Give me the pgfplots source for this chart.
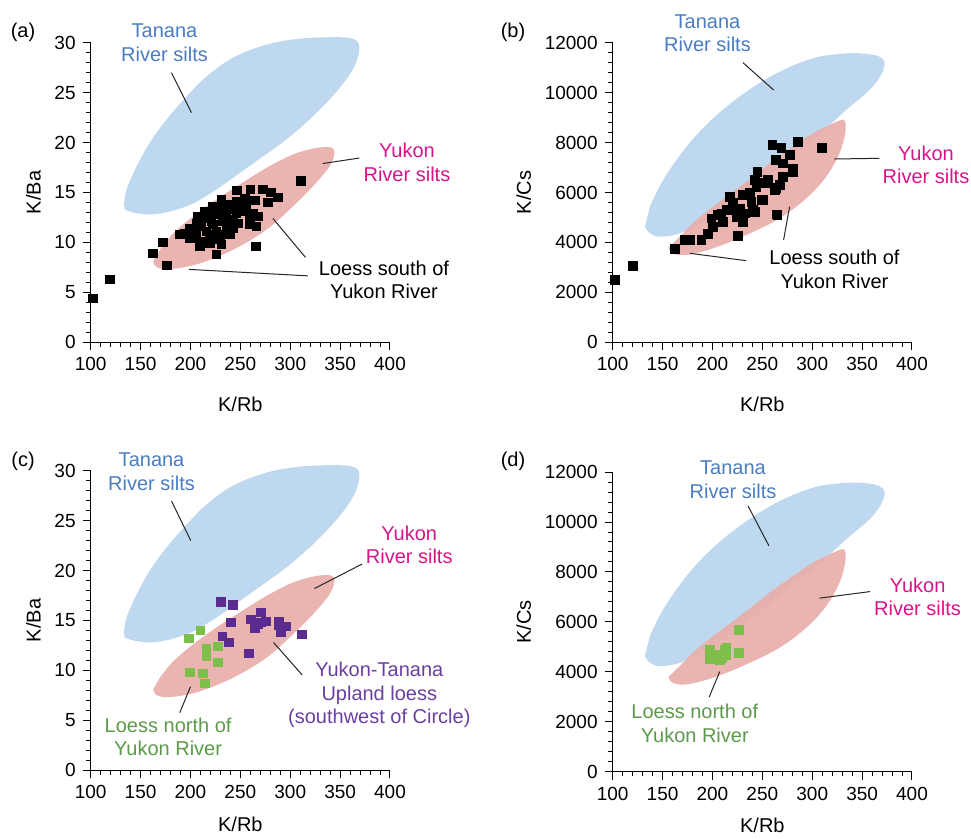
\documentclass[border=0pt]{standalone}
\usepackage{fontspec}
\setmainfont{Liberation Sans}
\usepackage{pgfplots}
\pgfplotsset{compat=1.18}
\definecolor{tananafill}{HTML}{BED8EF}
\definecolor{yukonfill}{HTML}{E8AEAA}
\definecolor{tananatext}{HTML}{4A7CC2}
\definecolor{yukontext}{HTML}{D6148B}
\definecolor{northgreen}{HTML}{7DBF4A}
\definecolor{northtext}{HTML}{5B9A48}
\definecolor{uplandpurple}{HTML}{5B2C8F}
\definecolor{uplandtext}{HTML}{6B3FA0}
\newcommand\annot{\fontsize{10}{11.7}\selectfont}

\pgfplotsset{
  panel/.style={
    scale only axis, width=149.65pt, height=149.8pt,
    anchor=south west, clip=false,
    xmin=100, xmax=400, ymin=0,
    axis x line*=bottom, axis y line*=left,
    axis line style={-, line width=0.6pt},
    tick align=outside, tick style={black, line width=0.5pt},
    major tick length=4pt, minor tick length=2.2pt,
    xtick={100,150,...,400}, minor x tick num=4, minor y tick num=4,
    tick label style={font=\fontsize{9.5}{11}\selectfont},
    label style={font=\annot},
    xlabel style={yshift=-6pt},
    /pgf/number format/assume math mode=true,
    /pgf/number format/set thousands separator={},
    scaled ticks=false,
    xlabel={K/Rb},
  },
  lower/.style={xlabel style={yshift=4pt}},
  kba/.style={panel, ymax=30, ytick={0,5,...,30}, ylabel={K/Ba}},
  kcs/.style={panel, ymax=12000, ytick={0,2000,...,12000}, ylabel={K/Cs}},
  blobT/.style={draw=none, fill=tananafill, smooth, tension=0.6, no marks},
  blobY/.style={draw=none, fill=yukonfill, fill opacity=0.92, smooth, tension=0.6, no marks},
  sq/.style={only marks, mark=square*, mark size=2.2pt},
  leader/.style={black!85, line width=0.5pt, no marks},
}

\begin{document}
\begin{tikzpicture}
\path[use as bounding box] (0,0) rectangle (485.5pt,419.5pt);

% ---------- (a) ----------
\begin{axis}[kba, at={(45.35pt,248.35pt)}]
\addplot[blobT] coordinates {
(133.3,13.8) (136,15.3) (146,17.6) (159.3,20) (176,22.3) (196,24.6) (216,26.6)
(242.6,28.5) (276,29.8) (309.3,30.4) (342.6,30.55) (362.6,30.4) (369.3,29.65)
(366,28) (356,26.3) (339.3,24.3) (319.3,22.3) (296,20.3) (272.6,18.6)
(249.3,16.95) (226,15.3) (202.6,13.9) (179.3,13.1) (159.3,12.8) (142.6,13.0) (134.3,13.3)
} -- cycle;
\addplot[blobY] coordinates {
(162.6,8.1) (165,7.6) (172,7.35) (186,7.4) (209.3,7.9) (242.6,9.26) (276,11.26)
(302.6,13.6) (322.6,15.6) (339.3,17.6) (344.3,18.96) (341,19.5) (326,19.45)
(302.6,18.8) (276,17.45) (249.3,15.8) (226,14.3) (202.6,12.6) (182.6,10.9) (169.3,9.26)
} -- cycle;
\addplot[sq, black] coordinates {
(102,4.4) (119.5,6.3) (162,8.9) (172.6,10.0) (176.6,7.7) (189.3,10.8) (310.5,16.2)
(246.6,15.2) (260,15.3) (272.6,15.3) (281,15.0) (287.6,14.5) (277.6,14.0) (264.3,14.2) (254.3,14.4)
(239.3,13.8) (232.6,13.4) (226,13.1) (219.3,12.8) (212.6,12.4) (206,11.9) (199.3,11.4) (194.3,10.9)
(199.3,10.4) (209.3,10.1) (209.3,9.6) (219.3,9.9) (229.3,10.3) (239.3,10.8) (242.6,11.4) (247.6,11.9)
(259.3,11.8) (266,11.6) (267.6,12.6) (262.6,12.9) (254.3,13.1) (226,8.8) (231,9.8) (265.3,9.6)
(222.6,11.8) (232.6,12.1) (216,11.1) (226,11.1) (236,12.8) (246,12.9) (249.3,13.6) (256,13.6)
(259.3,12.4) (206,10.8) (202.6,11.3) (219.3,10.8) (229.3,10.8) (236,11.2) (242.6,12.3) (211,11.6)
(221,12.1) (229.3,12.8) (239.3,13.3) (246,14.1) (231,14.3) (222.6,13.6) (214.3,13.1) (207.6,12.6)
};
\addplot[leader] coordinates {(181,27.0) (201,23.0)};
\addplot[leader] coordinates {(332.6,17.9) (369.3,18.45)};
\addplot[leader] coordinates {(282.6,12.4) (315.3,8.5)};
\addplot[leader] coordinates {(198.6,7.3) (317.6,6.65)};
\node[font=\annot, text=tananatext, align=center] at (axis cs:174,30) {Tanana\\River silts};
\node[font=\annot, text=yukontext, align=center] at (axis cs:417,18.0) {Yukon\\River silts};
\node[font=\annot, align=center] at (axis cs:394,6.25) {Loess south of\\Yukon River};
\end{axis}

% ---------- (b) ----------
\begin{axis}[kcs, at={(306.35pt,248.35pt)}]
\addplot[blobT] coordinates {
(132.3,4630) (137.3,4365) (147.3,4230) (167.3,4365) (194,4900) (220.6,5567)
(250.6,6500) (277.3,7434) (300.6,8102) (334,9304) (360.6,10237) (372.3,11038)
(367.3,11438) (347.3,11574) (327.3,11550) (300.6,11374) (267.3,10838) (234,10037)
(200.6,8971) (174,7834) (150.6,6500) (137.3,5431)
} -- cycle;
\addplot[blobY] coordinates {
(156,3800) (160,3564) (174,3496) (200.6,3765) (234,4297) (267.3,4966) (294,5767)
(314,6632) (327.3,7569) (333,8370) (333,8835) (329,8903) (317.3,8703) (300.6,8370)
(280.6,7834) (257.3,7169) (234,6432) (207.3,5631) (184,4900) (167.3,4230)
} -- cycle;
\addplot[sq, black] coordinates {
(102,2495) (120,3056) (162.6,3725) (172.3,4097) (177.3,4097) (189,4097) (225.6,4270)
(265,5098) (309.6,7795) (260,7902) (269,7770) (277.3,7501) (285.6,8035) (263.3,7301)
(270.6,7169) (245,6833) (270.6,6632) (280.6,6833) (267.3,6300) (262.3,6100) (252.3,6368)
(244,6232) (237.3,5968) (230.6,5900) (249,5699) (220.6,5567) (214,5299) (227.3,5366)
(240.6,5299) (205.6,5098) (199,4966) (200.6,4630) (210.6,4830) (224,5031) (232.3,5166)
(264.6,5126) (195.6,4337) (217.3,5832) (242.3,6500) (255.6,6500) (239,5632) (219,5299)
(209,5166) (281,6968) (264,6168) (250.6,5699) (242.3,5231) (230.6,4830)
};
\addplot[leader] coordinates {(230.6,11198) (261.3,10105)};
\addplot[leader] coordinates {(322.3,7341) (367.3,7369)};
\addplot[leader] coordinates {(271.3,4097) (277.3,5431)};
\addplot[leader] coordinates {(177.3,3564) (234,3268)};
\node[font=\annot, text=tananatext, align=center] at (axis cs:195,12375) {Tanana\\River silts};
\node[font=\annot, text=yukontext, align=center] at (axis cs:414,7101) {Yukon\\River silts};
\node[font=\annot, align=center] at (axis cs:322.3,2924) {Loess south of\\Yukon River};
\end{axis}

% ---------- (c) ----------
\begin{axis}[kba, lower, at={(45.35pt,34.35pt)}]
\addplot[blobT] coordinates {
(133.3,13.8) (136,15.3) (146,17.6) (159.3,20) (176,22.3) (196,24.6) (216,26.6)
(242.6,28.5) (276,29.8) (309.3,30.4) (342.6,30.55) (362.6,30.4) (369.3,29.65)
(366,28) (356,26.3) (339.3,24.3) (319.3,22.3) (296,20.3) (272.6,18.6)
(249.3,16.95) (226,15.3) (202.6,13.9) (179.3,13.1) (159.3,12.8) (142.6,13.0) (134.3,13.3)
} -- cycle;
\addplot[blobY] coordinates {
(162.6,8.1) (165,7.6) (172,7.35) (186,7.4) (209.3,7.9) (242.6,9.26) (276,11.26)
(302.6,13.6) (322.6,15.6) (339.3,17.6) (344.3,18.96) (341,19.5) (326,19.45)
(302.6,18.8) (276,17.45) (249.3,15.8) (226,14.3) (202.6,12.6) (182.6,10.9) (169.3,9.26)
} -- cycle;
\addplot[sq, northgreen] coordinates {
(198.6,13.2) (210,14.0) (216,12.2) (216,11.7) (216,11.4) (227.6,12.4) (227.6,10.8)
(199.3,9.8) (212.6,9.7) (214.3,8.7)
};
\addplot[sq, uplandpurple] coordinates {
(230.3,16.9) (242.6,16.6) (240.3,14.8) (232,13.4) (238.6,12.8) (258.6,11.7) (260.3,15.1)
(264.3,14.2) (271,15.8) (271,14.8) (276,14.9) (268,14.6) (288.3,14.9) (291,13.8)
(296,14.4) (311.6,13.6) (289,14.5)
};
\addplot[leader] coordinates {(181,26.96) (200.3,23.0)};
\addplot[leader] coordinates {(372,20.65) (324.3,18.2)};
\addplot[leader] coordinates {(200,8.37) (189.3,5.77)};
\addplot[leader] coordinates {(283.3,12.8) (312,9.54)};
\node[font=\annot, text=tananatext, align=center] at (axis cs:161,29.9) {Tanana\\River silts};
\node[font=\annot, text=yukontext, align=center] at (axis cs:419.3,22.55) {Yukon\\River silts};
\node[font=\annot, text=northtext, align=center] at (axis cs:177.6,3.37) {Loess north of\\Yukon River};
\node[font=\annot, text=uplandtext, align=center] at (axis cs:389.3,7.54) {Yukon-Tanana\\Upland loess\\(southwest of Circle)};
\end{axis}

% ---------- (d) ----------
\begin{axis}[kcs, lower, at={(306.35pt,33.65pt)}]
\addplot[blobT] coordinates {
(132.3,4630) (137.3,4365) (147.3,4230) (167.3,4365) (194,4900) (220.6,5567)
(250.6,6500) (277.3,7434) (300.6,8102) (334,9304) (360.6,10237) (372.3,11038)
(367.3,11438) (347.3,11574) (327.3,11550) (300.6,11374) (267.3,10838) (234,10037)
(200.6,8971) (174,7834) (150.6,6500) (137.3,5431)
} -- cycle;
\addplot[blobY] coordinates {
(156,3800) (160,3564) (174,3496) (200.6,3765) (234,4297) (267.3,4966) (294,5767)
(314,6632) (327.3,7569) (333,8370) (333,8835) (329,8903) (317.3,8703) (300.6,8370)
(280.6,7834) (257.3,7169) (234,6432) (207.3,5631) (184,4900) (167.3,4230)
} -- cycle;
\addplot[sq, northgreen] coordinates {
(197.3,4878) (197.3,4505) (202.3,4677) (207.3,4478) (212.3,4878) (213.3,4677)
(214,4950) (226.3,5679) (226.3,4770) (200,4700) (210,4550)
};
\addplot[leader] coordinates {(235.6,10649) (256.6,9046)};
\addplot[leader] coordinates {(307.3,6950) (358,7214)};
\addplot[leader] coordinates {(207.3,4008) (196.6,2982)};
\node[font=\annot, text=tananatext, align=center] at (axis cs:220.6,11691) {Tanana\\River silts};
\node[font=\annot, text=yukontext, align=center] at (axis cs:405.6,7014) {Yukon\\River silts};
\node[font=\annot, text=northtext, align=center] at (axis cs:182.3,1940) {Loess north of\\Yukon River};
\end{axis}

\node[font=\annot] at (11.5pt,403.5pt) {(a)};
\node[font=\annot] at (256.5pt,403.5pt) {(b)};
\node[font=\annot] at (11.5pt,188.65pt) {(c)};
\node[font=\annot] at (256.5pt,188.65pt) {(d)};
\end{tikzpicture}
\end{document}
